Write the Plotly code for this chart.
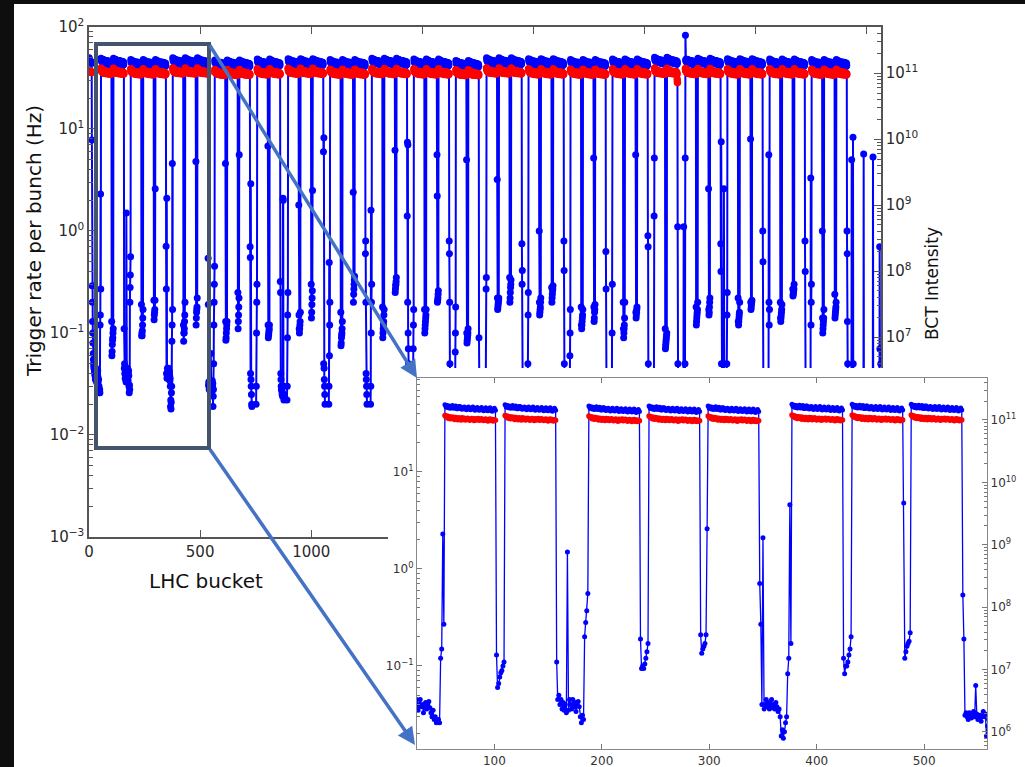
import plotly.graph_objects as go

N_BUCKETS = 3564

# ---------------- data ----------------
# 12-bunch train at the start of the orbit
pilot_bucket = [1, 2, 3, 4, 5, 6, 7, 8, 9, 10, 11, 12]
pilot_rate = [50, 48, 47, 46, 47, 46, 45, 46, 45, 44, 45, 44]
pilot_bct = [1.10e11, 1.08e11, 1.06e11, 1.07e11, 1.05e11, 1.04e11,
             1.06e11, 1.03e11, 1.05e11, 1.04e11, 1.02e11, 1.03e11]

# injections (first bucket) and number of 48-bunch trains per injection
injection_start = [54, 188, 377, 566, 757, 896, 1085, 1273, 1462, 1651,
                   1789, 1978, 2167, 2356, 2545, 2684, 2873, 3063, 3252]
injection_trains = [2, 3, 3, 3, 2, 3, 3, 3, 3, 2, 3, 3, 3, 3, 2, 3, 3, 3, 3]
train_offset = [0, 56, 111]
bunches_per_train = 48

# trigger rate (Hz) along a train
train_rate_profile = [48, 45.5, 47, 44.5, 46.5, 44, 45.5, 47, 44, 45, 46.5, 43.5,
                      43.5, 46, 46, 43.5, 43, 45, 45.5, 43.5, 42.5, 44.5, 45.5, 43,
                      42.5, 43.5, 45.5, 44, 42, 43.5, 45, 42.5, 42, 43.5, 45, 42.5,
                      41.5, 43, 44.5, 42, 41.5, 43, 44.5, 42, 41, 42.5, 44, 42]
# BCT intensity (units of 1e11) along a train
train_bct_profile = [1.14, 1.08, 1.11, 1.03, 1.08, 1.01, 1.07, 1.02, 1.06, 0.98, 1.05, 1.00,
                     0.97, 1.04, 1.01, 0.96, 1.04, 0.98, 1.03, 0.96, 0.99, 1.03, 1.00, 0.95,
                     0.98, 1.02, 0.99, 0.94, 1.01, 0.96, 1.00, 1.02, 0.95, 0.97, 1.01, 0.97,
                     0.94, 0.98, 1.00, 0.95, 0.93, 0.98, 1.00, 0.94, 0.98, 0.93, 0.97, 0.95]
injection_rate_scale = [1.03, 1.00, 1.04, 0.99, 1.01, 1.02, 1.00, 1.03, 1.01, 0.98,
                        1.04, 1.02, 1.00, 1.01, 1.05, 1.03, 1.02, 1.01, 1.00]
injection_bct_scale = [1.04, 1.02, 1.05, 1.00, 1.02, 1.04, 1.01, 1.03, 1.02, 0.99,
                       1.05, 1.02, 1.01, 1.02, 1.04, 1.03, 1.02, 1.02, 1.01]

# empty buckets 13..53 (before first injection)
gap0_rate = [7.8, 0.29, 0.2, 0.13, 0.1, 0.08, 0.063, 0.055, 0.05, 0.047, 0.045, 0.044, 0.042, 0.04, 0.038,
             0.045, 0.035, 0.04, 0.045, 0.038, 0.04, 0.033, 0.038, 0.042, 0.036, 0.04, 0.043, 0.037,
             0.033, 0.03, 0.035, 0.028, 0.03, 0.026, 0.027, 0.028, 0.026,
             0.12, 0.15, 2.3, 0.27]

# rates in the short gaps between trains of one injection (in order)
intra_gap_rate = [
    [0.13, 0.06, 0.066, 0.077, 0.085, 0.09, 0.1, 0.11],
    [0.19, 0.094, 0.1, 0.094, 0.105, 0.12, 0.14, 0.17],
    [0.21, 0.135, 0.15, 0.16, 0.17, 0.21, 2.6],
    [0.12, 0.083, 0.1, 0.1, 0.11, 0.13, 0.15, 0.2],
    [4.8, 0.12, 0.14, 0.16, 0.17, 0.18, 0.22],
    [4.6, 0.13, 0.085, 0.09, 0.1, 0.11, 0.12, 0.13],
    [0.25, 0.11, 0.13, 0.15, 0.18, 0.22, 5.6],
    [6.8, 0.12, 0.09, 0.095, 0.1, 0.105, 0.11, 0.12],
    [1.8, 0.15, 0.11, 0.1, 0.11, 0.12, 0.13, 0.16],
    [0.3, 0.14, 0.16, 0.19, 0.22, 0.26, 2.5],
    [0.16, 0.075, 0.08, 0.09, 0.095, 0.1, 0.11, 0.13],
    [2.4, 0.2, 0.24, 0.27, 0.3, 0.33, 0.36],
    [0.18, 0.09, 0.1, 0.11, 0.12, 0.13, 0.15, 0.17],
    [6.2, 0.25, 0.27, 0.29, 0.3, 0.32, 0.35],
    [0.17, 0.1, 0.11, 0.12, 0.13, 0.14, 0.15, 0.17],
    [5.6, 2.2, 0.2, 0.21, 0.22, 0.24, 0.26],
    [5.0, 0.1, 0.08, 0.085, 0.09, 0.095, 0.1, 0.11],
    [3.2, 0.22, 0.17, 0.18, 0.19, 0.2, 0.21, 0.22],
    [0.35, 0.2, 0.22, 0.25, 0.28, 0.3, 0.33],
    [1.0, 0.2, 0.15, 0.16, 0.17, 0.18, 0.2, 0.22],
    [0.28, 0.2, 0.22, 0.24, 0.26, 0.27, 0.29],
    [0.18, 0.12, 0.11, 0.12, 0.13, 0.14, 0.15, 0.17],
    [5.2, 0.18, 0.13, 0.14, 0.16, 0.17, 0.19],
    [0.2, 0.11, 0.09, 0.1, 0.11, 0.12, 0.14, 0.2],
    [5.6, 0.16, 0.14, 0.15, 0.16, 0.17, 0.18],
    [0.11, 0.07, 0.075, 0.08, 0.085, 0.09, 0.095, 0.1],
    [0.18, 0.12, 0.13, 0.14, 0.15, 0.16, 0.17, 0.2],
    [2.6, 0.17, 0.15, 0.16, 0.18, 0.2, 0.22],
    [0.22, 0.13, 0.12, 0.13, 0.14, 0.15, 0.16, 0.2],
    [8.0, 0.2, 0.17, 0.18, 0.19, 0.2, 0.21],
    [0.2, 0.14, 0.13, 0.14, 0.15, 0.16, 0.17, 0.19],
    [0.27, 0.23, 0.24, 0.25, 0.26, 0.27, 0.3],
    [1.0, 0.14, 0.1, 0.11, 0.12, 0.13, 0.14, 0.17],
    [0.24, 0.14, 0.15, 0.16, 0.17, 0.18, 0.2],
]

# injection gaps: rates right after an injection / right before the next one
inj_gap_after = [
    [0.11, 0.045, 0.05, 0.04, 0.045, 0.036, 0.042, 0.035, 0.04, 0.033, 1.5, 0.035, 0.045, 0.04, 0.036,
     0.045, 0.038, 0.042, 0.034, 0.04, 0.043, 0.038, 0.03, 0.026, 0.031, 0.028, 0.2, 0.28, 0.37, 0.56],
    [0.71, 0.27, 0.04, 2.1, 0.036, 0.04, 0.045, 0.038, 0.042, 0.036, 0.04, 0.045, 0.037, 0.04, 0.036,
     0.042, 0.038, 0.034, 0.036, 0.03, 0.019, 0.022, 0.018, 0.021, 0.026, 0.03, 0.083, 0.12, 4.6, 0.17],
    [0.54, 0.19, 0.031, 0.033, 0.03, 0.028, 0.033, 0.03, 0.029, 0.031, 0.034, 0.03, 0.063, 0.032, 0.028,
     0.03, 0.031, 0.027, 0.03, 0.034, 0.03, 0.032, 0.019, 0.024, 0.028, 0.05, 0.12, 0.2, 0.3, 0.45],
    [0.7, 0.55, 0.04, 2.9, 0.035, 0.03, 0.025, 0.02, 0.019],
    [0.32, 0.25, 0.04, 0.035, 0.03, 0.028, 0.03, 0.027, 0.025, 0.026, 0.024, 0.025, 2.1, 2.0, 0.03, 0.025, 0.022],
    [6.0, 0.05, 8.2, 0.045, 0.035, 0.03, 0.025, 0.02],
    [0.6, 0.8, 0.2, 0.04, 0.035, 0.03, 0.025, 0.02],
    [1.4, 7.4, 0.2, 7.0, 0.1, 0.07, 0.05, 0.04, 0.03],
    [0.8, 0.6, 0.2, 0.05, 0.03, 0.02],
    [0.09, 0.04, 0.02],
    [0.75, 0.3, 0.41, 0.04, 0.02],
    [0.8, 0.41, 0.05, 0.02],
    [0.63, 0.27, 0.04, 0.02],
    [0.9, 0.7, 0.05, 0.02],
    [1.1, 0.05, 0.02],
    [0.75, 0.4, 7.5, 0.05, 0.03, 0.02, 0.02, 0.02, 0.02, 0.03, 0.02, 0.02, 0.03, 0.02, 2.6, 0.04, 0.02],
    [1.0, 0.5, 0.04, 0.02],
    [0.8, 0.4, 0.04, 0.02],
]
inj_gap_before = [
    [], [], [],
    [0.02, 0.03, 0.1, 0.2, 0.3],
    [0.022, 0.03, 0.09, 0.15, 0.25],
    [0.02, 0.03, 0.49, 0.06, 0.12, 0.2],
    [0.02, 0.03, 1.6, 0.1, 0.2, 0.3],
    [0.03, 0.07, 0.12, 0.17],
    [0.02, 0.065, 0.1, 0.18],
    [0.02, 0.04, 0.27, 0.35],
    [0.02, 0.05, 0.15, 0.25],
    [0.02, 0.06, 0.1, 0.17],
    [0.02, 0.1, 0.3],
    [0.02, 1.4, 5.2],
    [0.02, 1.1, 0.04, 0.03, 0.02, 0.02, 0.02, 0.05, 5.2],
    [0.02, 0.05, 0.15, 0.25],
    [0.02, 0.03, 0.04, 5.6, 0.2, 0.12, 0.17],
    [0.02, 0.03, 3.3, 0.12, 0.2, 0.3],
]

# abort gap
abort_bucket = [3411, 3412, 3413, 3414, 3415, 3420, 3431, 3432, 3433, 3437, 3438, 3439, 3450,
                3485, 3486, 3487, 3500, 3527, 3528, 3529, 3545, 3557, 3558, 3559, 3563]
abort_rate = [1.0, 0.6, 0.13, 0.05, 0.02, 0.012, 0.01, 5.0, 0.03, 0.01, 8.3, 0.05, 0.01,
              0.01, 5.7, 0.02, 0.01, 0.01, 5.3, 0.02, 0.01, 0.02, 0.7, 0.07, 0.05]

rate_override_bucket = [2684]
rate_override_value = [83.0]
bct_override_bucket = [2647, 2648]
bct_override_value = [8.0e10, 7.2e10]

main_xticks = [0, 500, 1000, 1500, 2000, 2500, 3000, 3500]
inset_xticks = [100, 200, 300, 400, 500]

# ---------------- assemble per-bucket series ----------------
rate = [None] * N_BUCKETS
bct = [None] * N_BUCKETS
for b, r, i in zip(pilot_bucket, pilot_rate, pilot_bct):
    rate[b] = r
    bct[b] = i
for k, v in enumerate(gap0_rate):
    rate[pilot_bucket[-1] + 1 + k] = v

intra_i = 0
for j, (s, nt) in enumerate(zip(injection_start, injection_trains)):
    for t in range(nt):
        t0 = s + train_offset[t]
        for p in range(bunches_per_train):
            rate[t0 + p] = train_rate_profile[p] * injection_rate_scale[j]
            bct[t0 + p] = train_bct_profile[p] * 1e11 * injection_bct_scale[j]
        if t < nt - 1:
            g0 = t0 + bunches_per_train
            g1 = s + train_offset[t + 1]
            vals = intra_gap_rate[intra_i]
            intra_i += 1
            for k, v in enumerate(vals[:g1 - g0]):
                rate[g0 + k] = v
    end = s + train_offset[nt - 1] + bunches_per_train
    if j < len(injection_start) - 1:
        nxt = injection_start[j + 1]
        for k, v in enumerate(inj_gap_after[j][:nxt - end]):
            rate[end + k] = v
        before = inj_gap_before[j]
        for k, v in enumerate(before):
            rate[nxt - len(before) + k] = v

for b, v in zip(abort_bucket, abort_rate):
    rate[b] = v
for b, v in zip(rate_override_bucket, rate_override_value):
    rate[b] = v
for b, v in zip(bct_override_bucket, bct_override_value):
    bct[b] = v

blue_x = [b for b in range(N_BUCKETS) if rate[b] is not None]
blue_y = [rate[b] for b in blue_x]
red_x = list(range(N_BUCKETS))
red_y = bct

BLUE = "#0000ff"
RED = "#ff0000"
FRAME = "#555555"
TXT = "#2a2a2a"


def sup(n):
    s = str(n).replace("-", "\u2212")
    return "10<sup>" + s + "</sup>"


fig = go.Figure()
fig.add_trace(go.Scatter(x=blue_x, y=blue_y, mode="lines+markers", xaxis="x", yaxis="y",
                         line=dict(color=BLUE, width=2), marker=dict(color=BLUE, size=7),
                         hoverinfo="skip", showlegend=False))
fig.add_trace(go.Scatter(x=red_x, y=red_y, mode="lines+markers", xaxis="x", yaxis="y2",
                         line=dict(color=RED, width=2), marker=dict(color=RED, size=7.5),
                         hoverinfo="skip", showlegend=False))
# blank panel holding the inset picture (white cover)
fig.add_trace(go.Scatter(x=[], y=[], xaxis="x2", yaxis="y3", showlegend=False, hoverinfo="skip"))
fig.add_trace(go.Scatter(x=blue_x, y=blue_y, mode="lines+markers", xaxis="x3", yaxis="y4",
                         line=dict(color=BLUE, width=1.3), marker=dict(color=BLUE, size=5),
                         hoverinfo="skip", showlegend=False))
fig.add_trace(go.Scatter(x=red_x, y=red_y, mode="lines+markers", xaxis="x3", yaxis="y5",
                         line=dict(color=RED, width=1.3), marker=dict(color=RED, size=5.5),
                         hoverinfo="skip", showlegend=False))

minor_main = dict(ticks="inside", ticklen=4, tickcolor=FRAME, dtick="D1", showgrid=False)
minor_inset = dict(ticks="inside", ticklen=3, tickcolor="#777", dtick="D1", showgrid=False)

left_vals = [1e-3, 1e-2, 1e-1, 1e0, 1e1, 1e2]
left_txt = [sup(n) for n in [-3, -2, -1, 0, 1, 2]]
right_vals = [1e4, 1e5, 1e6, 1e7, 1e8, 1e9, 1e10, 1e11]
right_txt = [sup(n) for n in [4, 5, 6, 7, 8, 9, 10, 11]]
in_left_vals = [1e-1, 1e0, 1e1]
in_left_txt = [sup(n) for n in [-1, 0, 1]]
in_right_vals = [1e6, 1e7, 1e8, 1e9, 1e10, 1e11]
in_right_txt = [sup(n) for n in [6, 7, 8, 9, 10, 11]]

fig.update_layout(
    width=1025, height=767, margin=dict(l=0, r=0, t=0, b=0, pad=0), autosize=False,
    paper_bgcolor="#0e0e0e", plot_bgcolor="white", showlegend=False,
    font=dict(family="DejaVu Sans", color=TXT),
    xaxis=dict(domain=[0.086829, 0.859512], range=[0, 3564], anchor="y", automargin=False,
               tickmode="array", tickvals=main_xticks, ticktext=[str(v) for v in main_xticks],
               ticks="inside", ticklen=7, tickwidth=1, tickcolor=FRAME,
               showline=True, linecolor=FRAME, linewidth=1.5, mirror="ticks",
               showgrid=False, zeroline=False, tickfont=dict(size=15, color=TXT)),
    yaxis=dict(domain=[0.299870, 0.964798], type="log", range=[-3, 2], anchor="x", automargin=False,
               tickmode="array", tickvals=left_vals, ticktext=left_txt,
               ticks="inside", ticklen=7, tickcolor=FRAME, minor=minor_main,
               showline=True, linecolor=FRAME, linewidth=1.5, mirror=True,
               showgrid=False, zeroline=False, tickfont=dict(size=15, color=TXT)),
    yaxis2=dict(overlaying="y", side="right", anchor="x", type="log", range=[3.97, 11.70],
                automargin=False,
                tickmode="array", tickvals=right_vals, ticktext=right_txt,
                ticks="inside", ticklen=7, tickcolor=FRAME, minor=minor_main,
                showline=True, linecolor=FRAME, linewidth=1.5,
                showgrid=False, zeroline=False, tickfont=dict(size=15, color=TXT)),
    xaxis2=dict(domain=[0.378537, 1.0], anchor="y3", range=[0, 1], showticklabels=False,
                automargin=False, showline=False, ticks="", showgrid=False, zeroline=False),
    yaxis3=dict(domain=[0.0, 0.520209], anchor="x2", range=[0, 1], showticklabels=False,
                automargin=False, showline=False, ticks="", showgrid=False, zeroline=False),
    xaxis3=dict(domain=[0.406829, 0.962927], anchor="y4", range=[28, 558.5], automargin=False,
                tickmode="array", tickvals=inset_xticks, ticktext=[str(v) for v in inset_xticks],
                ticks="inside", ticklen=5, tickcolor="#777",
                showline=True, linecolor="#888888", linewidth=1.2, mirror="ticks",
                showgrid=False, zeroline=False, tickfont=dict(size=12, color="#333")),
    yaxis4=dict(domain=[0.023468, 0.507171], anchor="x3", type="log", range=[-1.856, 1.969],
                automargin=False,
                tickmode="array", tickvals=in_left_vals, ticktext=in_left_txt,
                ticks="inside", ticklen=5, tickcolor="#777", minor=minor_inset,
                showline=True, linecolor="#888888", linewidth=1.2, mirror=True,
                showgrid=False, zeroline=False, tickfont=dict(size=12, color="#333")),
    yaxis5=dict(overlaying="y4", side="right", anchor="x3", type="log", range=[5.727, 11.673],
                automargin=False,
                tickmode="array", tickvals=in_right_vals, ticktext=in_right_txt,
                ticks="inside", ticklen=5, tickcolor="#777", minor=minor_inset,
                showline=True, linecolor="#888888", linewidth=1.2,
                showgrid=False, zeroline=False, tickfont=dict(size=12, color="#333")),
)

W, H = 1025.0, 767.0


def px(x):
    return x / W


def py(y):
    return 1 - y / H


fig.add_shape(type="rect", xref="paper", yref="paper", x0=px(14), x1=1, y0=0, y1=py(4),
              fillcolor="white", line=dict(width=0), layer="below")
fig.add_shape(type="rect", xref="paper", yref="paper", x0=px(96), x1=px(209), y0=py(448), y1=py(44),
              line=dict(color="#44546A", width=4), fillcolor="rgba(0,0,0,0)", layer="above")

annotations = [
    dict(text="Trigger rate per bunch (Hz)", x=px(34), y=py(241), xref="paper", yref="paper",
         textangle=-90, showarrow=False, font=dict(size=20, color="#111"),
         xanchor="center", yanchor="middle"),
    dict(text="LHC bucket", x=px(206), y=py(581), xref="paper", yref="paper",
         showarrow=False, font=dict(size=20, color="#111"), xanchor="center", yanchor="middle"),
    dict(text="BCT Intensity", x=px(932), y=py(284), xref="paper", yref="paper",
         textangle=-90, showarrow=False, font=dict(size=17, color="#111"),
         xanchor="center", yanchor="middle"),
    dict(text="", x=px(417), y=py(378), xref="paper", yref="paper", showarrow=True,
         ax=209 - 417, ay=44 - 378, arrowcolor="#4472C4", arrowwidth=3.5, arrowhead=2,
         arrowsize=1, standoff=0),
    dict(text="", x=px(415), y=py(745), xref="paper", yref="paper", showarrow=True,
         ax=209 - 415, ay=448 - 745, arrowcolor="#4472C4", arrowwidth=3.5, arrowhead=2,
         arrowsize=1, standoff=0),
]
fig.update_layout(annotations=annotations)

fig.write_html("out.html")
